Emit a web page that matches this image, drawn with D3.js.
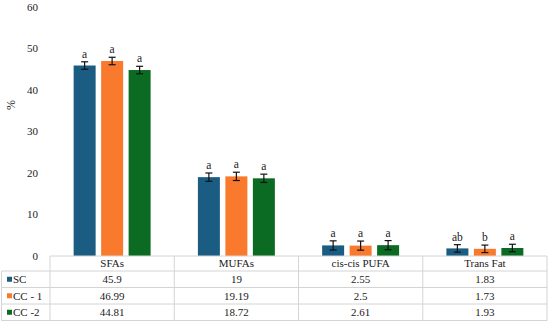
<!DOCTYPE html>
<html>
<head>
<meta charset="utf-8">
<script src="https://cdn.jsdelivr.net/npm/d3@7"></script>
<style>
  body { margin: 0; background: #fff; }
  svg text { font-family: "Liberation Serif", "Times New Roman", Times, serif; }
</style>
</head>
<body>
<div id="container"></div>
<script>
// Data
var categories = ['SFAs', 'MUFAs', 'cis-cis PUFA', 'Trans Fat'];
var seriesNames = ['SC', 'CC - 1', 'CC -2'];
var seriesColors = ['#1a5c82', '#f97a2d', '#0b6b23'];
var scValues = [45.9, 19, 2.55, 1.83];
var cc1Values = [46.99, 19.19, 2.5, 1.73];
var cc2Values = [44.81, 18.72, 2.61, 1.93];
var scErr = [0.9, 1.0, 1.1, 0.9];
var cc1Err = [0.9, 1.0, 1.1, 0.9];
var cc2Err = [0.9, 1.0, 1.1, 0.9];
var scLetters = ['a', 'a', 'a', 'ab'];
var cc1Letters = ['a', 'a', 'a', 'b'];
var cc2Letters = ['a', 'a', 'a', 'a'];
var yTicks = [0, 10, 20, 30, 40, 50, 60];

var WIDTH = 550,
    HEIGHT = 327;

var plotLeft = 50, plotRight = 547, plotTop = 7, plotBottom = 256;
var headH = 15, rowH = 16.5;

var series = [
  { name: seriesNames[0], color: seriesColors[0], values: scValues, err: scErr, letters: scLetters },
  { name: seriesNames[1], color: seriesColors[1], values: cc1Values, err: cc1Err, letters: cc1Letters },
  { name: seriesNames[2], color: seriesColors[2], values: cc2Values, err: cc2Err, letters: cc2Letters }
];

var svg = d3.select('#container')
  .append('svg')
  .attr('width', WIDTH)
  .attr('height', HEIGHT)
  .attr('font-size', 11)
  .attr('fill', '#222');

var x0 = d3.scaleBand().domain(categories).range([plotLeft, plotRight]);
var x1 = d3.scaleBand().domain(seriesNames).range([0, x0.bandwidth()]).paddingInner(0.2).paddingOuter(0.86);
var y = d3.scaleLinear().domain([0, 60]).range([plotBottom, plotTop]);

// y axis labels (no line)
svg.append('g')
  .selectAll('text')
  .data(yTicks)
  .enter()
  .append('text')
  .attr('x', 38)
  .attr('y', function(d) { return y(d); })
  .attr('dy', '0.35em')
  .attr('text-anchor', 'end')
  .text(function(d) { return d; });

svg.append('text')
  .attr('transform', 'translate(15,' + 105 + ') rotate(-90)')
  .attr('text-anchor', 'middle')
  .style('font-size', '12px')
  .text('%');

// bars
var groups = svg.selectAll('.series')
  .data(series)
  .enter()
  .append('g')
  .attr('class', 'series');

groups.selectAll('rect')
  .data(function(s) {
    return categories.map(function(c, i) {
      return { cat: c, name: s.name, color: s.color, v: s.values[i] };
    });
  })
  .enter()
  .append('rect')
  .attr('x', function(d) { return x0(d.cat) + x1(d.name); })
  .attr('y', function(d) { return y(d.v); })
  .attr('width', x1.bandwidth())
  .attr('height', function(d) { return y(0) - y(d.v); })
  .attr('fill', function(d) { return d.color; });

// error bars and letters
var pts = [];
series.forEach(function(s) {
  categories.forEach(function(c, i) {
    pts.push({ cat: c, name: s.name, v: s.values[i], e: s.err[i], l: s.letters[i] });
  });
});
var cx = function(d) { return x0(d.cat) + x1(d.name) + x1.bandwidth() / 2; };

var eb = svg.append('g').attr('stroke', '#111').attr('stroke-width', 1.2);
eb.selectAll('.v').data(pts).enter().append('line')
  .attr('x1', cx).attr('x2', cx)
  .attr('y1', function(d) { return y(d.v + d.e); })
  .attr('y2', function(d) { return y(d.v - d.e); });
eb.selectAll('.t').data(pts).enter().append('line')
  .attr('x1', function(d) { return cx(d) - 3.5; }).attr('x2', function(d) { return cx(d) + 3.5; })
  .attr('y1', function(d) { return y(d.v + d.e); })
  .attr('y2', function(d) { return y(d.v + d.e); });
eb.selectAll('.b').data(pts).enter().append('line')
  .attr('x1', function(d) { return cx(d) - 3.5; }).attr('x2', function(d) { return cx(d) + 3.5; })
  .attr('y1', function(d) { return y(d.v - d.e); })
  .attr('y2', function(d) { return y(d.v - d.e); });

svg.append('g').selectAll('text').data(pts).enter().append('text')
  .attr('x', cx)
  .attr('y', function(d) { return y(d.v + d.e) - 4; })
  .attr('text-anchor', 'middle')
  .style('font-size', '11.5px')
  .text(function(d) { return d.l; });

// data table
var tbl = svg.append('g');
var gridColor = '#d4d4d4';
var rowTop = function(r) { return r === 0 ? plotBottom : plotBottom + headH + rowH * (r - 1); };
var tableBottom = rowTop(4);

tbl.append('line').attr('x1', plotLeft).attr('x2', plotRight).attr('y1', plotBottom).attr('y2', plotBottom)
  .attr('stroke', gridColor);
for (var r = 1; r <= 4; r++) {
  tbl.append('line').attr('x1', 1.5).attr('x2', plotRight)
    .attr('y1', rowTop(r)).attr('y2', rowTop(r))
    .attr('stroke', gridColor);
}
tbl.append('line').attr('x1', 1.5).attr('x2', 1.5).attr('y1', rowTop(1)).attr('y2', tableBottom)
  .attr('stroke', gridColor);
categories.forEach(function(c) {
  tbl.append('line').attr('x1', x0(c)).attr('x2', x0(c)).attr('y1', plotBottom).attr('y2', tableBottom)
    .attr('stroke', gridColor);
});
tbl.append('line').attr('x1', plotRight).attr('x2', plotRight).attr('y1', plotBottom).attr('y2', tableBottom)
  .attr('stroke', gridColor);

// header
tbl.selectAll('.hdr').data(categories).enter().append('text')
  .attr('x', function(c) { return x0(c) + x0.bandwidth() / 2; })
  .attr('y', plotBottom + headH / 2)
  .attr('dy', '0.35em')
  .attr('text-anchor', 'middle')
  .text(function(c) { return c; });

// rows
series.forEach(function(s, si) {
  var ry = rowTop(si + 1) + rowH / 2;
  tbl.append('rect').attr('x', 7).attr('y', ry - 2.5).attr('width', 5).attr('height', 5)
    .attr('fill', s.color);
  tbl.append('text').attr('x', 13).attr('y', ry).attr('dy', '0.35em')
    .text(s.name);
  tbl.selectAll('.row' + si).data(categories).enter().append('text')
    .attr('x', function(c) { return x0(c) + x0.bandwidth() / 2; })
    .attr('y', ry)
    .attr('dy', '0.35em')
    .attr('text-anchor', 'middle')
    .text(function(c, i) { return s.values[i]; });
});
</script>
</body>
</html>
